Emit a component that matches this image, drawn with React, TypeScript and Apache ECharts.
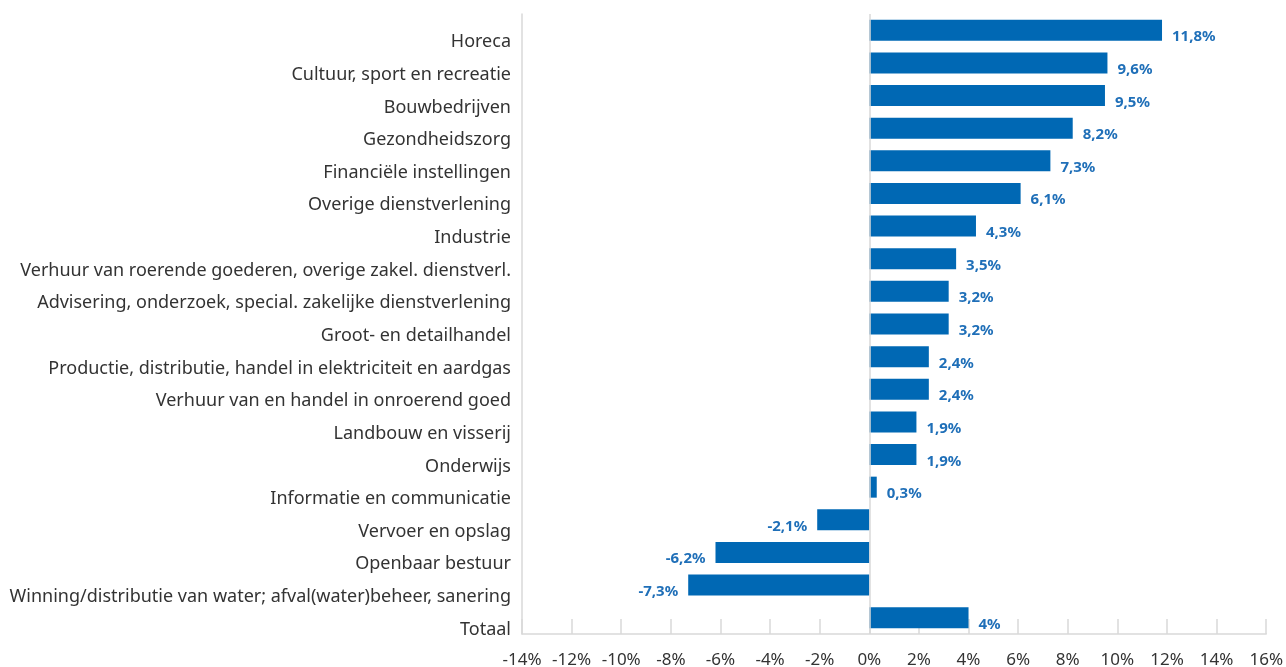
import React, { useEffect, useRef } from "react";
import * as echarts from "echarts";

const categories: string[] = [
  "Horeca",
  "Cultuur, sport en recreatie",
  "Bouwbedrijven",
  "Gezondheidszorg",
  "Financiële instellingen",
  "Overige dienstverlening",
  "Industrie",
  "Verhuur van roerende goederen, overige zakel. dienstverl.",
  "Advisering, onderzoek, special. zakelijke dienstverlening",
  "Groot- en detailhandel",
  "Productie, distributie, handel in elektriciteit en aardgas",
  "Verhuur van en handel in onroerend goed",
  "Landbouw en visserij",
  "Onderwijs",
  "Informatie en communicatie",
  "Vervoer en opslag",
  "Openbaar bestuur",
  "Winning/distributie van water; afval(water)beheer, sanering",
  "Totaal",
];

const values: number[] = [
  11.8, 9.6, 9.5, 8.2, 7.3, 6.1, 4.3, 3.5, 3.2, 3.2, 2.4, 2.4, 1.9, 1.9, 0.3,
  -2.1, -6.2, -7.3, 4,
];

const axisMin = -14;
const axisMax = 16;
const axisStep = 2;

const FONT = "'Noto Sans', sans-serif";
const BAR = "#0068b4";
const LABEL = "#1f6fb8";
const GRID = "#d9d9d9";

const fmt = (v: number) => String(v).replace(".", ",") + "%";

export default function App() {
  const ref = useRef<HTMLDivElement>(null);
  useEffect(() => {
    if (!ref.current) return;
    const chart = echarts.init(ref.current, null, { renderer: "svg" });
    chart.setOption({
      animation: false,
      textStyle: { fontFamily: FONT },
      grid: { left: 522, right: 17, top: 14, bottom: 33, containLabel: false },
      xAxis: {
        type: "value",
        min: axisMin,
        max: axisMax,
        interval: axisStep,
        axisLine: { show: true, lineStyle: { color: GRID, width: 1.5 } },
        axisTick: { show: true, inside: true, length: 15, lineStyle: { color: GRID, width: 1.5 } },
        splitLine: { show: false },
        axisLabel: {
          color: "#333",
          fontSize: 17,
          lineHeight: 17,
          fontFamily: FONT,
          margin: 16,
          formatter: (v: number) => v + "%",
        },
      },
      yAxis: {
        type: "category",
        data: categories,
        inverse: true,
        axisLine: { show: true, onZero: false, lineStyle: { color: GRID, width: 1.5 } },
        axisTick: { show: false },
        axisLabel: {
          color: "#333",
          fontSize: 18,
          lineHeight: 20,
          verticalAlign: "top",
          fontFamily: FONT,
          margin: 11,
        },
      },
      series: [
        {
          type: "bar",
          data: values.map((v) => ({
            value: v,
            label: {
              show: true,
              position: v < 0 ? "left" : "right",
              distance: 10,
              offset: [0, 5],
              color: LABEL,
              fontWeight: "bold",
              fontSize: 15,
              fontFamily: FONT,
              formatter: () => fmt(v),
            },
          })),
          barWidth: 21,
          itemStyle: { color: BAR },
          markLine: {
            silent: true,
            symbol: "none",
            label: { show: false },
            lineStyle: { color: GRID, type: "solid", width: 1.5 },
            data: [{ xAxis: 0 }],
          },
        },
      ],
    });
    return () => chart.dispose();
  }, []);
  return (
    <div
      ref={ref}
      style={{ position: "fixed", left: 0, top: 0, width: 1286, height: 667 }}
    />
  );
}
